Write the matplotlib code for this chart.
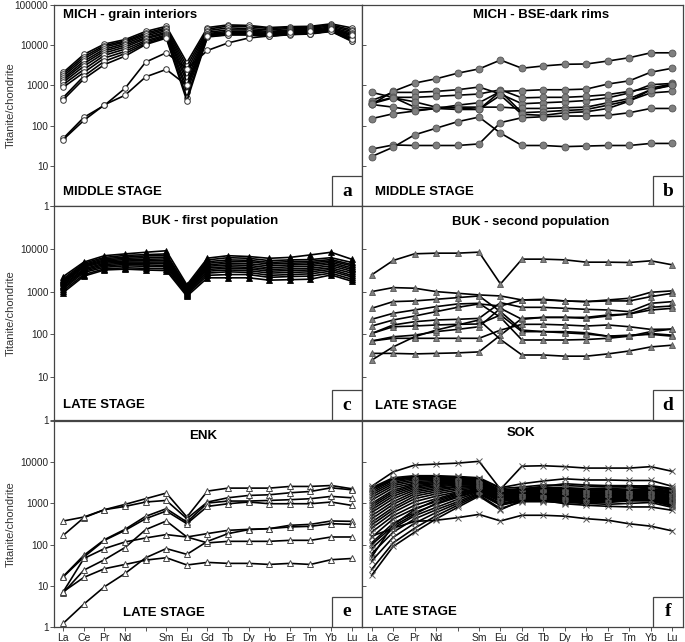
import numpy as np
import matplotlib.pyplot as plt
from matplotlib.patches import Rectangle
from matplotlib.ticker import FixedLocator, NullLocator, FixedFormatter

plt.rcParams['font.family'] = ['Liberation Sans', 'DejaVu Sans']

# REE order (Pm slot kept as a gap in the labels)
elements = ['La', 'Ce', 'Pr', 'Nd', 'Pm', 'Sm', 'Eu', 'Gd', 'Tb', 'Dy', 'Ho', 'Er', 'Tm', 'Yb', 'Lu']
xlabels = ['La', 'Ce', 'Pr', 'Nd', '', 'Sm', 'Eu', 'Gd', 'Tb', 'Dy', 'Ho', 'Er', 'Tm', 'Yb', 'Lu']
yticks = [1, 10, 100, 1000, 10000, 100000]

# a - MICH grain interiors
mich_interiors = [
    [2100, 5900, 10700, 13800, 22000, 29500, 3700, 27500, 32000, 31000, 27500, 29000, 29500, 34000, 27000],
    [1900, 5200, 9800, 12800, 20000, 27000, 3000, 25000, 30000, 29000, 26000, 27500, 28000, 32000, 24000],
    [1700, 4600, 9000, 12000, 18500, 25000, 2400, 23000, 27000, 26000, 24000, 26000, 26500, 30000, 22000],
    [1500, 4000, 8000, 11000, 17000, 23000, 1900, 21000, 24000, 24000, 22000, 24000, 25000, 28000, 20000],
    [1350, 3500, 7200, 10000, 15500, 21000, 1500, 19500, 22000, 22000, 21000, 22500, 23500, 26500, 18500],
    [1200, 3000, 6400, 9000, 14500, 19500, 1200, 18500, 20500, 20500, 20000, 21500, 22500, 25500, 17000],
    [1050, 2500, 5600, 8000, 13000, 18000, 900, 17500, 19500, 19500, 19000, 20500, 21500, 24500, 15500],
    [900, 2100, 4800, 7000, 12000, 17000, 700, 17000, 18800, 19000, 18000, 19500, 20500, 23500, 14000],
    [500, 1700, 4000, 6200, 11000, 16000, 500, 16600, 18300, 18300, 17000, 18500, 19500, 22500, 13000],
    [440, 1450, 3300, 5350, 10400, 15000, 410, 16000, 18000, 18000, 16600, 18300, 19000, 22000, 12500],
    [48, 160, 320, 850, 3800, 6500, 2600, 7400, 11400, 15100, 17000, 18500, 19500, 22500, 14500],
    [45, 135, 330, 570, 1630, 2500, 1000, 17000, 20000, 20000, 19000, 21000, 22000, 25000, 17500],
]

# b - MICH BSE-dark rims
mich_rims = [
    [335, 710, 1140, 1460, 2010, 2570, 4270, 2670, 3050, 3350, 3410, 4040, 4890, 6470, 6470],
    [670, 505, 288, 267, 252, 252, 710, 740, 780, 780, 810, 1080, 1300, 2130, 2670],
    [420, 670, 670, 710, 780, 910, 610, 350, 370, 390, 420, 490, 650, 1040, 1120],
    [370, 505, 505, 535, 570, 610, 780, 490, 505, 505, 535, 590, 710, 860, 1080],
    [335, 288, 238, 267, 288, 288, 288, 267, 267, 277, 288, 370, 470, 780, 1040],
    [149, 197, 230, 267, 322, 370, 710, 209, 221, 238, 252, 322, 420, 650, 710],
    [350, 490, 390, 288, 277, 252, 570, 190, 180, 209, 221, 267, 405, 780, 1000],
    [26, 33, 32, 32, 32, 35, 119, 157, 166, 173, 173, 180, 209, 267, 267],
    [17, 29, 59, 86, 125, 163, 65, 32, 32, 30, 31, 32, 32, 36, 36],
]

# c - BUK first population
buk_first = [
    [2250, 4900, 6900, 7600, 8300, 9000, 1440, 6050, 6900, 6600, 6000, 6300, 7200, 8300, 5700],
    [2000, 4600, 6300, 7000, 7300, 7600, 1300, 5500, 6200, 6000, 5300, 5500, 5600, 6200, 4800],
    [1850, 4300, 5900, 6400, 6800, 7000, 1250, 5000, 5500, 5400, 4800, 5000, 5100, 5600, 4300],
    [1750, 4100, 5500, 6000, 6200, 6400, 1200, 4600, 5000, 5000, 4400, 4600, 4700, 5200, 4000],
    [1650, 3900, 5200, 5600, 5700, 5800, 1150, 4200, 4600, 4500, 4000, 4200, 4300, 4800, 3600],
    [1550, 3700, 4900, 5200, 5300, 5300, 1100, 3900, 4200, 4100, 3600, 3800, 3900, 4400, 3300],
    [1450, 3400, 4600, 4900, 4900, 4900, 1050, 3600, 3800, 3700, 3300, 3400, 3500, 4000, 3000],
    [1350, 3200, 4300, 4600, 4600, 4500, 1000, 3300, 3500, 3400, 3000, 3100, 3200, 3600, 2700],
    [1250, 3000, 4000, 4300, 4200, 4100, 950, 3000, 3200, 3100, 2700, 2800, 2900, 3300, 2400],
    [1150, 2800, 3700, 4000, 3900, 3800, 900, 2700, 2900, 2800, 2400, 2500, 2600, 3000, 2200],
    [1050, 2500, 3400, 3600, 3500, 3400, 850, 2400, 2500, 2500, 2150, 2250, 2300, 2700, 1950],
    [950, 2300, 3200, 3350, 3200, 3100, 780, 2100, 2100, 2100, 1850, 1900, 1950, 2450, 1750],
]

# d - BUK second population
buk_second = [
    [2460, 5330, 7640, 7910, 7910, 8350, 1510, 5730, 5730, 5520, 4870, 4870, 4790, 5240, 4220],
    [1000, 1240, 1200, 1000, 914, 836, 791, 638, 638, 605, 583, 638, 698, 965, 1040],
    [407, 583, 605, 661, 723, 791, 340, 126, 116, 116, 109, 91, 91, 105, 96],
    [225, 311, 372, 445, 514, 533, 250, 74, 74, 74, 76, 81, 91, 116, 133],
    [157, 217, 269, 340, 429, 514, 461, 638, 661, 605, 583, 605, 605, 764, 914],
    [105, 166, 198, 217, 225, 237, 552, 429, 429, 407, 385, 372, 340, 533, 583],
    [70, 88, 96, 116, 131, 151, 407, 225, 250, 250, 237, 269, 300, 429, 461],
    [36, 36, 35, 36, 37, 39, 96, 237, 250, 250, 250, 284, 300, 372, 407],
    [25, 51, 88, 126, 166, 217, 76, 33, 33, 31, 31, 35, 41, 51, 56],
    [70, 81, 81, 81, 81, 81, 126, 172, 172, 166, 157, 166, 151, 131, 133],
    [105, 151, 157, 166, 172, 175, 284, 116, 116, 109, 102, 91, 96, 100, 91],
]

# e - ENK
enk = [
    [168, 450, 703, 947, 1300, 1780, 467, 1990, 2350, 2350, 2350, 2580, 2580, 2720, 2270],
    [374, 467, 703, 846, 1080, 1180, 426, 1080, 1370, 1560, 1620, 1810, 1950, 2390, 2140],
    [17, 55, 132, 235, 485, 743, 353, 1020, 1140, 1140, 1180, 1230, 1300, 1480, 1370],
    [16.5, 50, 127, 222, 426, 653, 322, 846, 982, 1080, 982, 982, 982, 1080, 895],
    [6.8, 24, 43, 85, 231, 374, 153, 185, 222, 235, 244, 294, 310, 374, 367],
    [7.2, 46, 80, 116, 145, 175, 153, 110, 120, 120, 120, 127, 127, 153, 153],
    [1.23, 3.6, 9.5, 20, 48, 80, 58, 120, 185, 231, 244, 268, 278, 322, 310],
    [7.2, 16, 26, 33, 42, 48, 32, 37, 35, 35, 33, 35, 33, 43, 46],
]

# f - SOK
sok = [
    [2600, 5800, 8500, 9000, 9500, 10500, 2200, 8000, 8200, 7800, 7200, 7200, 7200, 7800, 6000],
    [2400, 4200, 4700, 4700, 4500, 4200, 2400, 3000, 3500, 3950, 3700, 3700, 3600, 3600, 2600],
    [2200, 3800, 4400, 4400, 4300, 4000, 2300, 2500, 2800, 2700, 2600, 2500, 2600, 2700, 2300],
    [2000, 3600, 4200, 4200, 4100, 3800, 2100, 2300, 2500, 2400, 2300, 2300, 2400, 2500, 2100],
    [1800, 3300, 4000, 4000, 3900, 3700, 2000, 2200, 2300, 2200, 2100, 2100, 2200, 2300, 2000],
    [1600, 3000, 3700, 3800, 3700, 3500, 1900, 2100, 2200, 2100, 2000, 2000, 2100, 2200, 1900],
    [1400, 2700, 3400, 3600, 3600, 3400, 1800, 2000, 2100, 2000, 1900, 1900, 2000, 2100, 1800],
    [1200, 2400, 3100, 3400, 3400, 3300, 1750, 1950, 2000, 1900, 1850, 1850, 1950, 2000, 1700],
    [1000, 2100, 2900, 3200, 3300, 3200, 1700, 1900, 1900, 1850, 1800, 1800, 1900, 1900, 1600],
    [900, 1900, 2700, 3000, 3100, 3100, 1650, 1850, 1850, 1800, 1750, 1750, 1850, 1850, 1550],
    [800, 1700, 2500, 2900, 3000, 3000, 1600, 1800, 1800, 1750, 1700, 1700, 1800, 1800, 1500],
    [700, 1500, 2300, 2700, 2900, 2900, 1550, 1750, 1750, 1700, 1650, 1650, 1750, 1750, 1450],
    [600, 1300, 2100, 2500, 2800, 2800, 1500, 1700, 1700, 1650, 1600, 1600, 1700, 1700, 1400],
    [500, 1100, 1900, 2300, 2600, 2700, 1450, 1650, 1650, 1600, 1550, 1550, 1650, 1650, 1350],
    [420, 950, 1700, 2100, 2500, 2600, 1400, 1600, 1600, 1550, 1500, 1500, 1600, 1600, 1300],
    [350, 800, 1500, 1900, 2300, 2500, 1350, 1550, 1550, 1500, 1450, 1450, 1550, 1550, 1250],
    [300, 700, 1300, 1700, 2100, 2400, 1300, 1500, 1500, 1450, 1400, 1400, 1500, 1500, 1200],
    [250, 600, 1100, 1500, 1900, 2300, 1250, 1450, 1450, 1400, 1350, 1350, 1450, 1450, 1150],
    [200, 500, 900, 1300, 1800, 2200, 1200, 1400, 1400, 1350, 1300, 1300, 1400, 1400, 1100],
    [150, 420, 750, 1100, 1600, 2100, 1150, 1350, 1350, 1300, 1250, 1250, 1350, 1350, 1050],
    [110, 330, 600, 950, 1400, 2000, 1100, 1300, 1300, 1250, 1200, 1200, 1300, 1300, 1000],
    [80, 250, 500, 800, 1250, 1900, 1000, 1250, 1250, 1200, 1150, 1150, 1250, 1250, 950],
    [60, 200, 420, 700, 1100, 1800, 950, 1200, 1200, 1150, 1100, 1100, 1200, 1200, 900],
    [40, 150, 330, 600, 1000, 1700, 900, 1150, 1150, 1100, 1050, 1050, 1150, 1150, 850],
    [25, 110, 250, 500, 900, 1600, 750, 1100, 1100, 1050, 1000, 950, 1000, 1050, 800],
    [18, 90, 200, 420, 800, 1500, 700, 1180, 1180, 980, 900, 850, 820, 820, 680],
    [160, 250, 365, 390, 450, 540, 375, 515, 515, 490, 425, 390, 320, 280, 215],
    [50, 300, 700, 1200, 1700, 2200, 1600, 2200, 2600, 3000, 2800, 2700, 2700, 2600, 2200],
    [100, 280, 550, 1000, 1500, 2000, 1400, 2100, 2300, 2300, 2200, 2200, 2100, 2100, 1800],
    [2300, 3900, 4500, 4500, 4300, 4000, 1800, 1800, 1700, 1500, 1300, 1300, 1200, 1200, 900],
]

W, H = 685, 642
fig = plt.figure(figsize=(W / 100, H / 100), dpi=100)
x = np.arange(len(elements))

cols = [(54, 362), (362, 683)]
rows = [(5, 206), (206, 420), (421, 627)]

panels = [
    # data, title, title x, title y, ha, stage, stage x, stage y, letter, marker kwargs
    (mich_interiors, 'MICH - grain interiors', 0.03, 0.95, 'left', 'MIDDLE STAGE', 0.03, 0.07, 'a',
     dict(marker='o', ms=4, mfc='white', mec='#333333', mew=0.7)),
    (mich_rims, 'MICH - BSE-dark rims', 0.557, 0.95, 'center', 'MIDDLE STAGE', 0.04, 0.07, 'b',
     dict(marker='o', ms=5, mfc='#7f7f7f', mec='#555555', mew=0.6)),
    (buk_first, 'BUK - first population', 0.506, 0.93, 'center', 'LATE STAGE', 0.03, 0.07, 'c',
     dict(marker='^', ms=4, mfc='black', mec='black', mew=0.6)),
    (buk_second, 'BUK - second population', 0.526, 0.925, 'center', 'LATE STAGE', 0.04, 0.065, 'd',
     dict(marker='^', ms=5, mfc='#808080', mec='#555555', mew=0.6)),
    (enk, 'ENK', 0.484, 0.927, 'center', 'LATE STAGE', 0.224, 0.068, 'e',
     dict(marker='^', ms=4.5, mfc='white', mec='#444444', mew=0.7)),
    (sok, 'SOK', 0.495, 0.94, 'center', 'LATE STAGE', 0.04, 0.073, 'f',
     dict(marker='x', ms=4, mec='#555555', mew=0.7)),
]

for i, (data, title, tx, ty, tha, stage, sx, sy, letter, mk) in enumerate(panels):
    r, c = divmod(i, 2)
    x0, x1 = cols[c]
    yt, yb = rows[r]
    ax = fig.add_axes([x0 / W, (H - yb) / H, (x1 - x0) / W, (yb - yt) / H])
    for vals in data:
        ax.plot(x, vals, color='black', lw=1.2, **mk)
    ax.set_yscale('log')
    ax.set_ylim(1, 100000)
    ax.set_xlim(-0.45, 14.5)
    ax.yaxis.set_major_locator(FixedLocator(yticks))
    ax.yaxis.set_minor_locator(NullLocator())
    ax.xaxis.set_major_locator(FixedLocator(x))
    ax.xaxis.set_major_formatter(FixedFormatter(xlabels))
    ax.tick_params(axis='x', direction='out', length=3, width=0.7, color='#555555',
                   labelsize=7.5, labelcolor='#222222', pad=1.5, labelbottom=(r == 2))
    if c == 0:
        ylabs = ['1', '10', '100', '1000', '10000', '100000' if r == 0 else '']
        ax.yaxis.set_major_formatter(FixedFormatter(ylabs))
        ax.tick_params(axis='y', direction='out', length=3, width=0.7, color='#555555',
                       labelsize=7.2, labelcolor='#222222', pad=1)
        ax.set_ylabel('Titanite/chondrite', fontsize=8, color='#333333')
        ax.yaxis.set_label_coords(-0.125, 0.5)
    else:
        ax.tick_params(axis='y', direction='in', length=3, width=0.7, color='#555555',
                       labelleft=False)
    for s in ax.spines.values():
        s.set_color('#444444')
        s.set_linewidth(0.9)

    ax.text(tx, ty, title, transform=ax.transAxes, ha=tha, va='center',
            fontsize=9.5, fontweight='bold')
    ax.text(sx, sy, stage, transform=ax.transAxes, ha='left', va='center',
            fontsize=9.5, fontweight='bold')

    # letter box in the lower right corner, 30x30 px
    bw = 30 / (x1 - x0)
    bh = 30 / (yb - yt)
    ax.add_patch(Rectangle((1 - bw, 0), bw, bh, transform=ax.transAxes,
                           facecolor='white', edgecolor='#444444', lw=0.9, zorder=5))
    ax.text(1 - bw / 2, bh / 2, letter, transform=ax.transAxes, ha='center', va='center',
            fontsize=14, fontweight='bold', family=['Liberation Serif', 'DejaVu Serif'], zorder=6)

fig.savefig('out.png', dpi=100)
